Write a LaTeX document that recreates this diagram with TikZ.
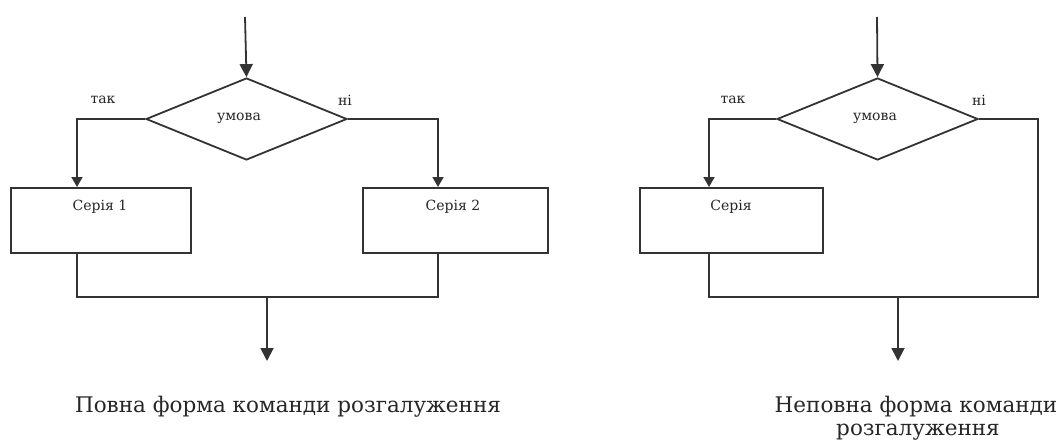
\documentclass[tikz,border=0pt]{standalone}
\usepackage{fontspec}
\setmainfont{DejaVu Serif}
\newfontfamily\lblfont{DejaVu Serif}
\usetikzlibrary{shapes.geometric,arrows.meta,calc}
\begin{document}
\begin{tikzpicture}[x=1pt,y=-1pt,
  ln/.style={line width=1.8pt,draw=black!80,line join=miter},
  bigarr/.style={ln,-{Triangle[length=13pt,width=13pt]}},
  smallarr/.style={ln,-{Triangle[length=10pt,width=11pt]}},
  cond/.style={diamond,ln,minimum width=201pt,minimum height=82pt,inner sep=0pt},
  box/.style={rectangle,ln,inner sep=0pt,anchor=north west},
  lbl/.style={font=\lblfont\fontsize{14}{15}\selectfont,inner sep=0pt,text=black!85},
  captxt/.style={font=\fontsize{21.5}{23}\selectfont,inner sep=0pt,text=black!85,align=center}]
\useasboundingbox (0,0) rectangle (1064,442);
% ---------- left: full form ----------
\coordinate (t1) at (245,17);
\node[cond] (d1) at (246.5,119) {};
\node[lbl] (u1) at (239,118) {умова};
\node[lbl] (yes1) at (103,100) {так};
\node[lbl] (no1) at (345,100) {ні};
\node[box,minimum width=180pt,minimum height=65pt] (b1) at (10,187) {};
\node[box,minimum width=185pt,minimum height=65pt] (b2) at (362,187) {};
\node[lbl] (s1) at (100,207) {Серія 1};
\node[lbl] (s2) at (453,207) {Серія 2};
\coordinate (b1in) at (77,187);
\coordinate (b2in) at (438,187);
\coordinate (b1out) at (77,252);
\coordinate (b2out) at (438,252);
\coordinate (m1) at (267,297);
\coordinate (e1) at (267,361);
\draw[bigarr] (t1) -- (d1.north);
\draw[smallarr] (d1.west) -| (b1in);
\draw[smallarr] (d1.east) -| (b2in);
\draw[ln] (b1out) |- (m1) -| (b2out);
\draw[bigarr] (m1) -- (e1);
\node[captxt,anchor=base] (c1) at (288,412) {Повна форма команди розгалуження};
% ---------- right: incomplete form ----------
\coordinate (t2) at (877,17);
\node[cond] (d2) at (877.5,119) {};
\node[lbl] (u2) at (875,118) {умова};
\node[lbl] (yes2) at (733,100) {так};
\node[lbl] (no2) at (979,100) {ні};
\node[box,minimum width=183pt,minimum height=65pt] (b3) at (639,187) {};
\node[lbl] (s3) at (731,207) {Серія};
\coordinate (b3in) at (709,187);
\coordinate (b3out) at (709,252);
\coordinate (rx) at (1038,297);
\coordinate (m2) at (898,297);
\coordinate (e2) at (898,361);
\draw[bigarr] (t2) -- (d2.north);
\draw[smallarr] (d2.west) -| (b3in);
\draw[ln] (d2.east) -| (rx) -- (m2) -| (b3out);
\draw[bigarr] (m2) -- (e2);
\node[captxt,anchor=base] (c2) at (916,412) {Неповна форма команди};
\node[captxt,anchor=base] (c3) at (918,435) {розгалуження};
\end{tikzpicture}
\end{document}
